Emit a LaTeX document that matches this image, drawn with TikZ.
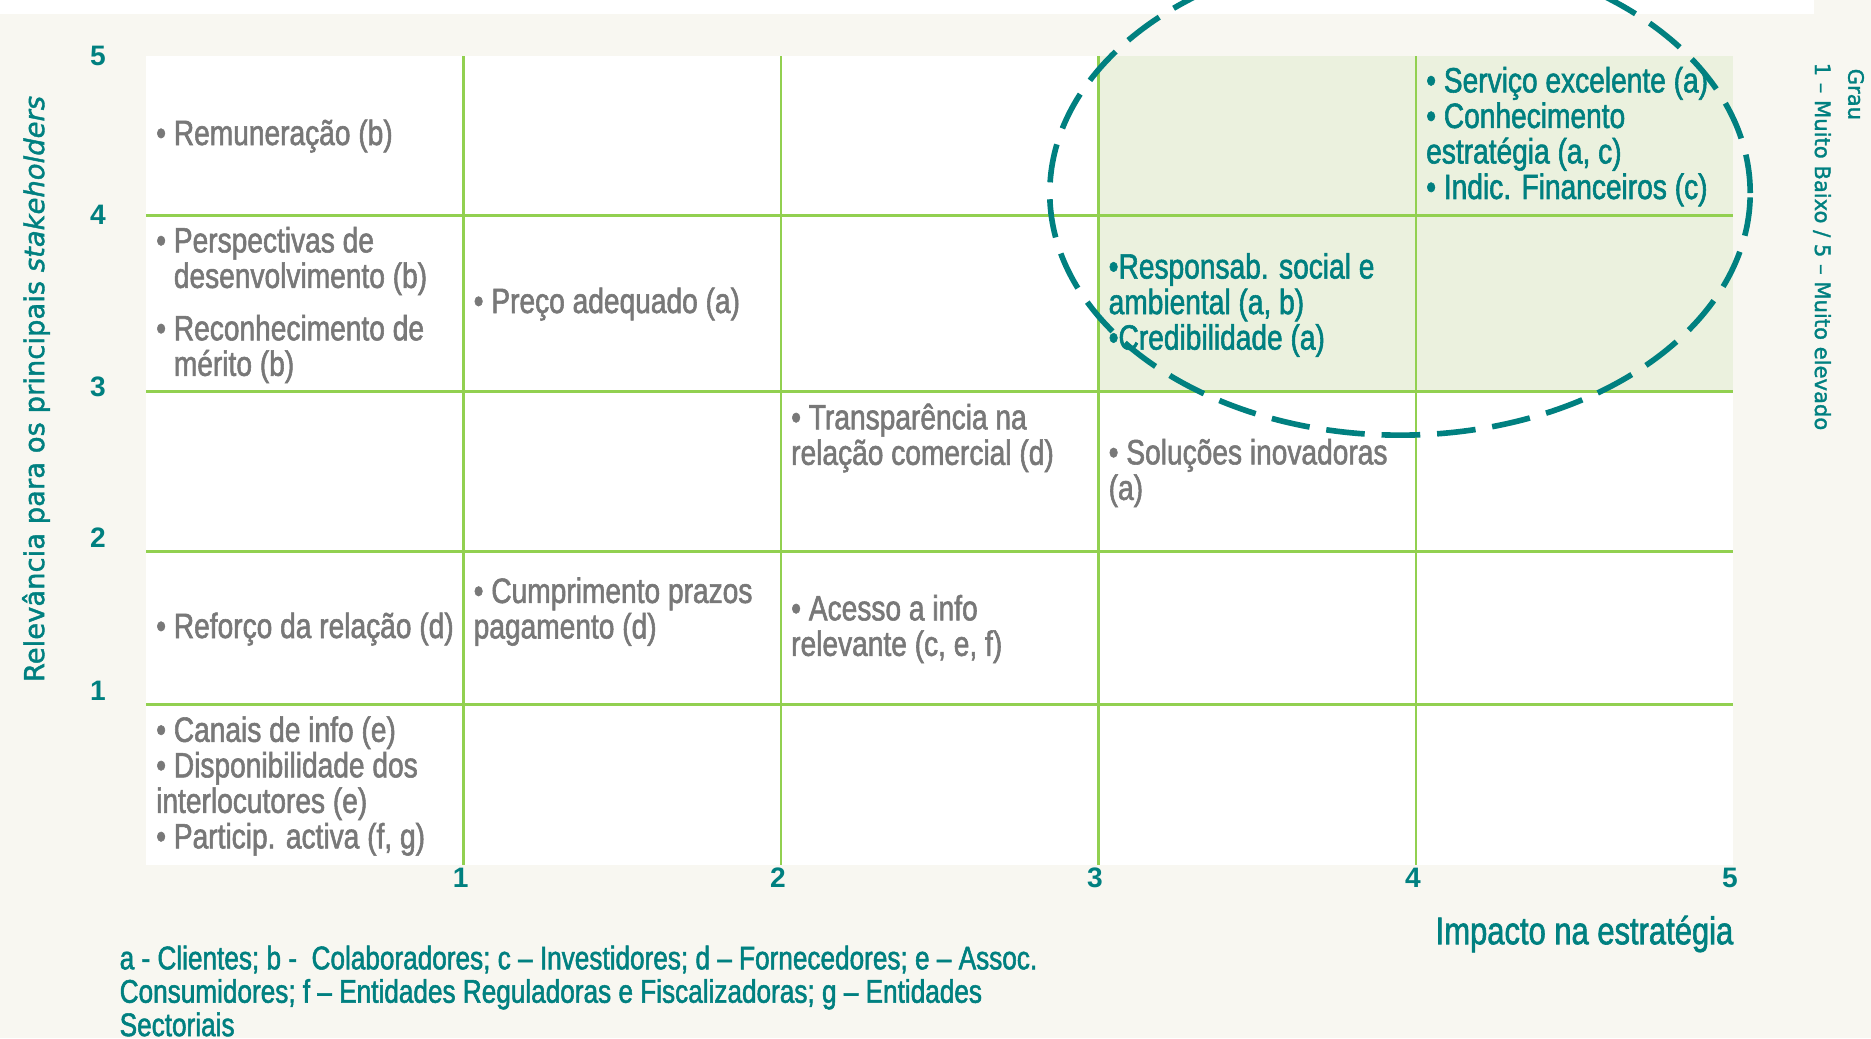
\documentclass[tikz,border=0pt]{standalone}
\usepackage{fontspec}
\setmainfont{Liberation Sans}
\newfontfamily\narrowfont[FakeStretch=0.8, FakeBold=1.6]{Liberation Sans}
\newfontfamily\widefont[FakeBold=1.5]{DejaVu Sans}
\usepackage{tikz}
\definecolor{tealdark}{RGB}{0, 128, 128}
\definecolor{cellgray}{RGB}{120, 120, 120}
\definecolor{gridgreen}{RGB}{146, 208, 80}
\definecolor{hotfill}{RGB}{235, 241, 222}
\definecolor{paper}{RGB}{248, 247, 241}

\begin{document}
\begin{tikzpicture}[
    x=0.01cm, y=-0.01cm,
    cell/.style={anchor=west, align=left, inner sep=0pt, text=cellgray, font=\narrowfont\fontsize{10}{10.1}\selectfont},
    hot/.style={cell, text=tealdark},
    tick/.style={text=tealdark, inner sep=0pt, font=\bfseries\fontsize{8}{8}\selectfont},
    axistitle/.style={text=tealdark, inner sep=0pt, font=\widefont\fontsize{7.8}{9}\selectfont},
    gradetext/.style={text=tealdark, inner sep=0pt, anchor=west, rotate=-90, font=\widefont\fontsize{6}{7}\selectfont},
    note/.style={text=tealdark, inner sep=0pt, align=left, font=\narrowfont\fontsize{9.3}{9.5}\selectfont},
    gridline/.style={draw=gridgreen, line width=0.85pt},
    ring/.style={draw=tealdark, line width=1.6pt, dash pattern=on 11pt off 4.8pt}
]
\useasboundingbox (0,0) rectangle (1871,1038);
\clip (0,0) rectangle (1871,1038);

% Background and plot area
\fill[paper] (0,0) rectangle (1871,1038);
\fill[white] (0,0) rectangle (1814,14);
\fill[white] (146,56) rectangle (1733,865);
\fill[hotfill] (1098.5,56) rectangle (1733,391.4);

% Grid
\draw[gridline] (146,215) -- (1733,215);
\draw[gridline] (146,391.4) -- (1733,391.4);
\draw[gridline] (146,551.3) -- (1733,551.3);
\draw[gridline] (146,704) -- (1733,704);
\draw[gridline] (463.5,56) -- (463.5,865);
\draw[gridline] (781,56) -- (781,865);
\draw[gridline] (1098.5,56) -- (1098.5,865);
\draw[gridline] (1416,56) -- (1416,865);

% Axis values
\node[tick] (y5) at (98,56) {5};
\node[tick] (y4) at (98,215) {4};
\node[tick] (y3) at (98,387) {3};
\node[tick] (y2) at (98,538) {2};
\node[tick] (y1) at (98,691) {1};
\node[tick] (x1) at (460.6,878) {1};
\node[tick] (x2) at (778,878) {2};
\node[tick] (x3) at (1095,878) {3};
\node[tick] (x4) at (1413,878) {4};
\node[tick] (x5) at (1730,878) {5};

% Axis titles
\node[axistitle, rotate=90] (ytitle) at (36,389) {Relevância para os principais \textit{stakeholders}};
\node[text=tealdark, inner sep=0pt, anchor=east, font=\narrowfont\fontsize{11}{11}\selectfont] (xtitle) at (1734,934) {Impacto na estratégia};
\node[gradetext] (grau) at (1856,68) {Grau};
\node[gradetext] (scale) at (1822,62) {1 – Muito Baixo / 5 – Muito elevado};

% Matrix cells
\node[cell] (remun) at (155.5,136) {• Remuneração (b)};
\node[cell] (persp) at (155.5,305) {• Perspectivas de\\\hphantom{• }desenvolvimento (b)\\[4.8pt]• Reconhecimento de\\\hphantom{• }mérito (b)};
\node[cell] (preco) at (473,304) {• Preço adequado (a)};
\node[cell] (transp) at (790.5,438) {• Transparência na\\relação comercial (d)};
\node[cell] (solucoes) at (1108,473) {• Soluções inovadoras\\(a)};
\node[cell] (reforco) at (155.5,629) {• Reforço da relação (d)};
\node[cell] (prazos) at (473,611.6) {• Cumprimento prazos\\pagamento (d)};
\node[cell] (acesso) at (790.5,629) {• Acesso a info\\relevante (c, e, f)};
\node[cell] (canais) at (155.5,786) {• Canais de info (e)\\• Disponibilidade dos\\interlocutores (e)\\• Particip. activa (f, g)};

% Priority cells
\node[hot] (responsab) at (1108,305) {•Responsab. social e\\ambiental (a, b)\\•Credibilidade (a)};
\node[hot] (servico) at (1425.5,136.6) {• Serviço excelente (a)\\• Conhecimento\\estratégia (a, c)\\• Indic. Financeiros (c)};

% Legend
\node[note, anchor=west] (legend) at (119,991) {a - Clientes; b -\ \ Colaboradores; c – Investidores; d – Fornecedores; e – Assoc.\\Consumidores; f – Entidades Reguladoras e Fiscalizadoras; g – Entidades\\Sectoriais};

% Priority ring
\draw[ring] (1400,193) ellipse [x radius=3.5cm, y radius=2.42cm];

\end{tikzpicture}
\end{document}
